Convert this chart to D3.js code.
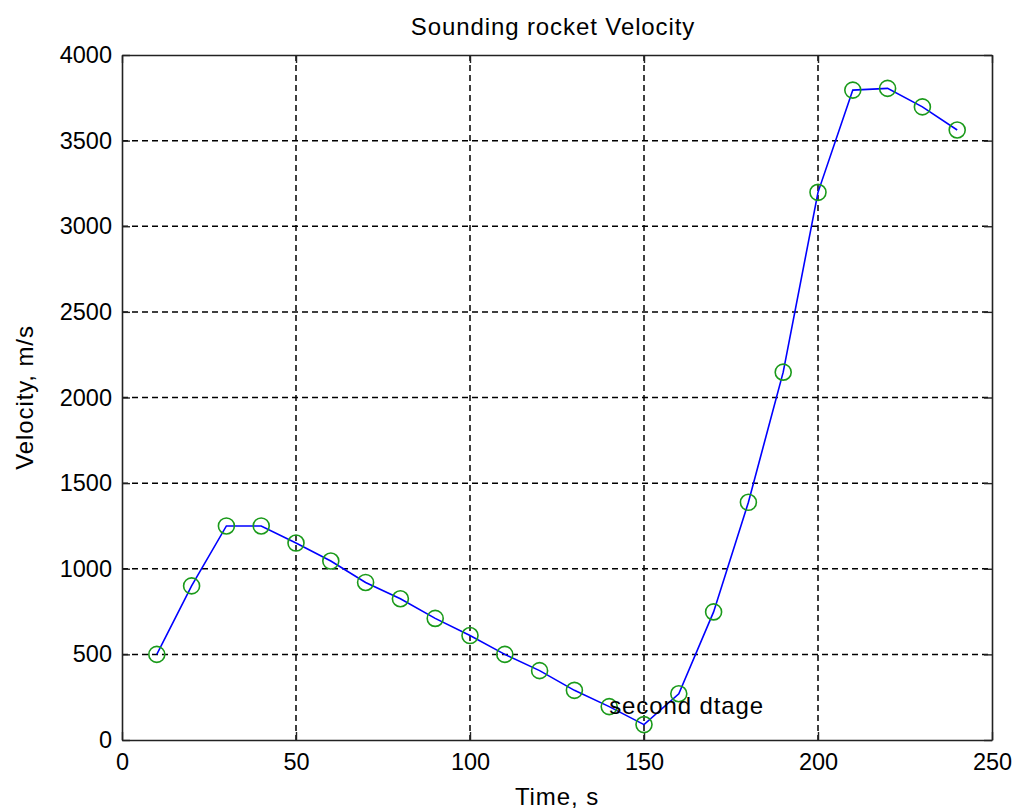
<html>
<head>
<script src="https://cdn.jsdelivr.net/npm/d3@7"></script>
<style>
body { margin: 0; background: #fff; }
text { font-family: "Liberation Sans", Arial, sans-serif; fill: #000; }
.grid line { stroke: #000; stroke-dasharray: 6,4; stroke-width: 1.5; }
.lbl { font-size: 24px; letter-spacing: 0.9px; }
</style>
</head>
<body>
<svg></svg>
<script>

var width = 1021;
var height = 812;

// data
var time = [10, 20, 30, 40, 50, 60, 70, 80, 90, 100, 110, 120, 130, 140, 150, 160, 170, 180, 190, 200, 210, 220, 230, 240];
var velocity = [500, 900, 1250, 1250, 1150, 1045, 920, 825, 710, 610, 500, 405, 290, 195, 90, 270, 748, 1388, 2148, 3198, 3795, 3805, 3697, 3562];
var xTicks = [0, 50, 100, 150, 200, 250];
var yTicks = [0, 500, 1000, 1500, 2000, 2500, 3000, 3500, 4000];
var note = {t: 140, v: 200, label: "second dtage"};

var m = {left: 122, right: 992, top: 55, bottom: 740};

var svg = d3.select("svg").attr("width", width).attr("height", height);

var x = d3.scaleLinear().domain([0, 250]).range([m.left, m.right]);
var y = d3.scaleLinear().domain([0, 4000]).range([m.bottom, m.top]);

// dashed grid
var grid = svg.append("g").attr("class", "grid");
grid.selectAll(".gx").data(xTicks.slice(1, -1)).enter().append("line")
  .attr("x1", d => x(d)).attr("x2", d => x(d))
  .attr("y1", m.top).attr("y2", m.bottom);
grid.selectAll(".gy").data(yTicks.slice(1, -1)).enter().append("line")
  .attr("x1", m.left).attr("x2", m.right)
  .attr("y1", d => y(d)).attr("y2", d => y(d));

// axes, ticks pointing inward, labels outside
var tl = 8;
var fmt = d3.format("d");
var xAxis = svg.append("g").attr("transform", "translate(0," + m.bottom + ")")
  .call(d3.axisBottom(x).tickValues(xTicks).tickFormat(fmt).tickSizeInner(-tl).tickSizeOuter(0).tickPadding(13));
var xAxisTop = svg.append("g").attr("transform", "translate(0," + m.top + ")")
  .call(d3.axisTop(x).tickValues(xTicks).tickSizeInner(-tl).tickSizeOuter(0).tickFormat(""));
var yAxis = svg.append("g").attr("transform", "translate(" + m.left + ",0)")
  .call(d3.axisLeft(y).tickValues(yTicks).tickFormat(fmt).tickSizeInner(-tl).tickSizeOuter(0).tickPadding(10));
var yAxisRight = svg.append("g").attr("transform", "translate(" + m.right + ",0)")
  .call(d3.axisRight(y).tickValues(yTicks).tickSizeInner(-tl).tickSizeOuter(0).tickFormat(""));

[xAxis, xAxisTop, yAxis, yAxisRight].forEach(function(a) {
  a.selectAll("path").attr("stroke", "#222").attr("stroke-width", 1.6);
  a.selectAll("line").attr("stroke", "#222").attr("stroke-width", 1.4);
  a.selectAll("text").style("font-size", "23.5px").attr("font-family", null);
});

// series
var line = d3.line().x((d, i) => x(time[i])).y(d => y(d));
svg.append("path").datum(velocity)
  .attr("d", line)
  .attr("fill", "none")
  .attr("stroke", "#0000ff")
  .attr("stroke-width", 1.6);

svg.selectAll(".pt").data(velocity).enter().append("circle")
  .attr("cx", (d, i) => x(time[i]))
  .attr("cy", d => y(d))
  .attr("r", 8)
  .attr("fill", "none")
  .attr("stroke", "#1a9a1a")
  .attr("stroke-width", 1.6);

svg.append("text").attr("class", "lbl")
  .attr("x", x(note.t)).attr("y", y(note.v))
  .attr("dy", "0.35em")
  .text(note.label);

// titles
svg.append("text").attr("class", "lbl")
  .attr("x", (m.left + m.right) / 2 - 4).attr("y", 35)
  .attr("text-anchor", "middle")
  .text("Sounding rocket Velocity");

svg.append("text").attr("class", "lbl")
  .attr("x", (m.left + m.right) / 2).attr("y", 805)
  .attr("text-anchor", "middle")
  .text("Time, s");

svg.append("text").attr("class", "lbl")
  .attr("transform", "translate(33," + (m.top + m.bottom) / 2 + ") rotate(-90)")
  .attr("text-anchor", "middle")
  .text("Velocity, m/s");

</script>
</body>
</html>
